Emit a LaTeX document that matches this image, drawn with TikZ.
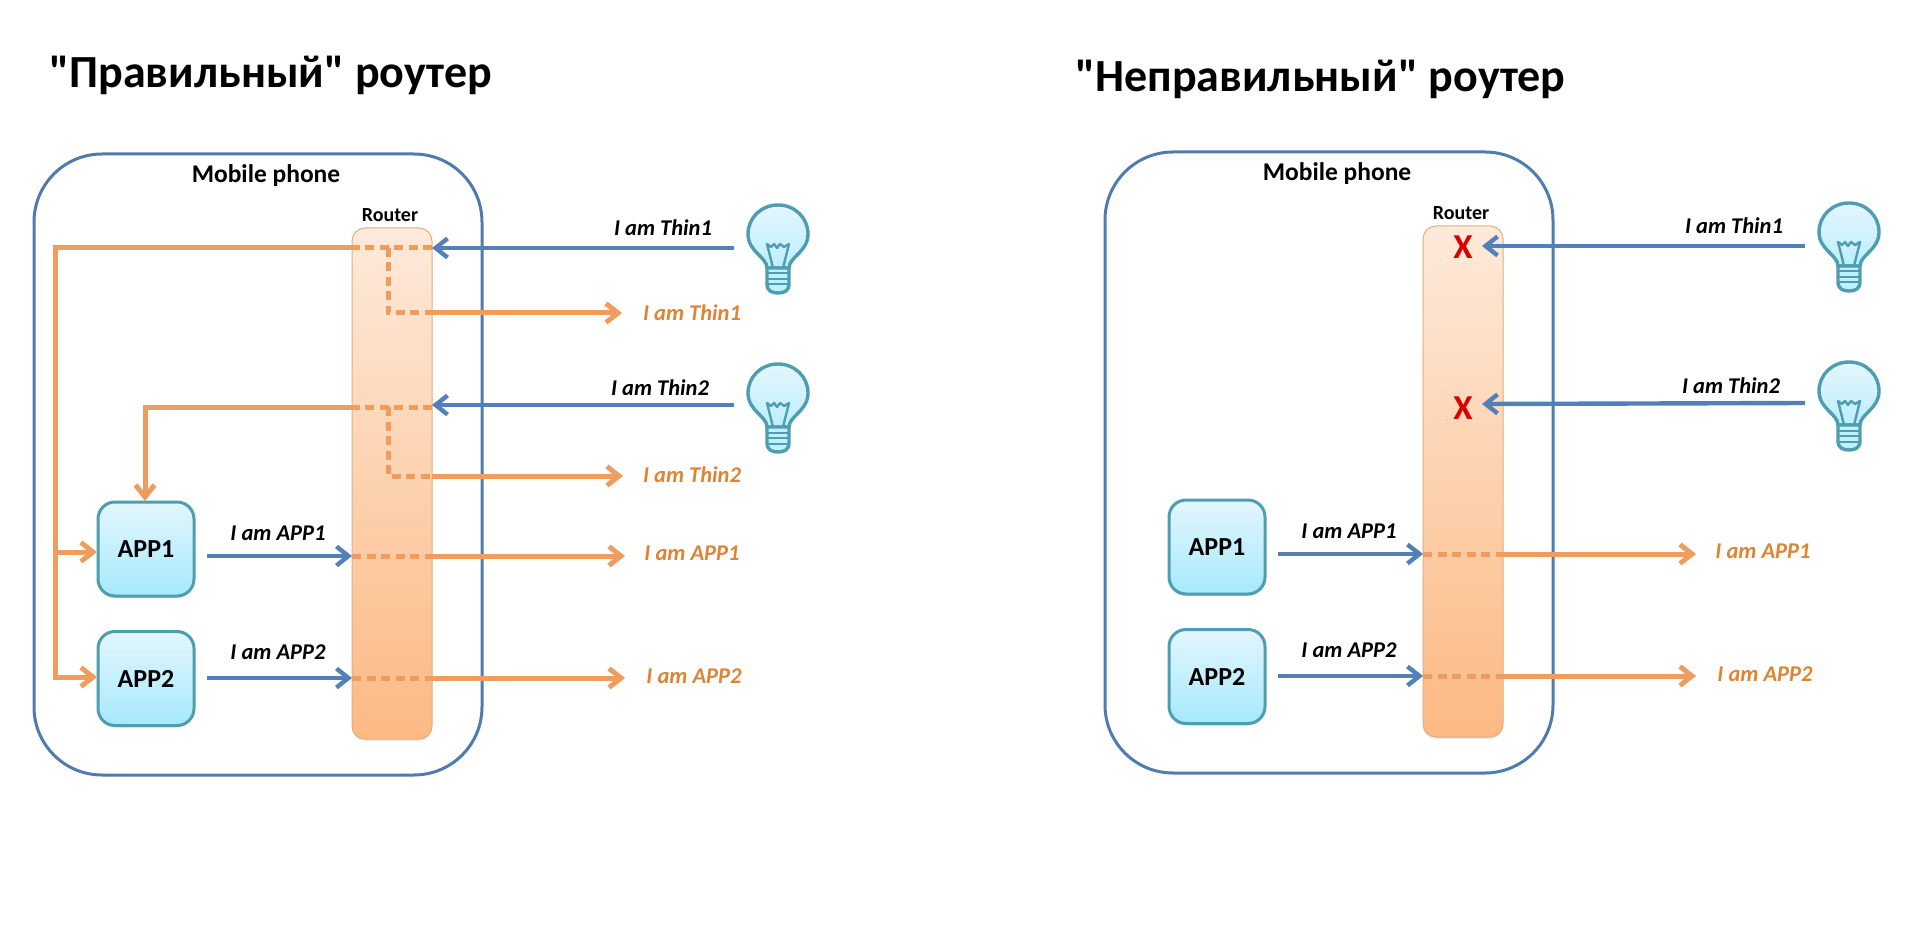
\documentclass[tikz,border=0pt]{standalone}
\usepackage{fontspec}
\setmainfont[Ligatures=TeXOff]{Carlito}
\usetikzlibrary{arrows.meta,shadows}
\definecolor{edgeblue}{HTML}{4F7BAE}
\definecolor{flowblue}{HTML}{5480B8}
\definecolor{floworange}{HTML}{EE9D5E}
\definecolor{textorange}{HTML}{DD8435}
\definecolor{apptop}{HTML}{E3F6FD}
\definecolor{appbottom}{HTML}{A6E9FC}
\definecolor{appedge}{HTML}{4E9DB0}
\definecolor{routertop}{HTML}{FDEADB}
\definecolor{routerbottom}{HTML}{FCB983}
\definecolor{routeredge}{HTML}{E2AE80}
\tikzset{
  fs/.code={\fontsize{#1}{#1}\selectfont},
  phonebox/.style={draw=edgeblue,line width=3pt,rounded corners=68pt,minimum width=448pt,minimum height=621pt,inner sep=0pt,outer sep=0pt},
  routerbox/.style={draw=routeredge,line width=1pt,top color=routertop,bottom color=routerbottom,rounded corners=13pt,minimum width=80pt,minimum height=511pt,inner sep=0pt,outer sep=0pt,drop shadow={opacity=.18,shadow xshift=0pt,shadow yshift=-2pt}},
  appbox/.style={draw=appedge,line width=3pt,top color=apptop,bottom color=appbottom,rounded corners=17pt,minimum width=96pt,minimum height=94pt,inner sep=0pt,outer sep=0pt,font=\bfseries,fs=26,drop shadow={opacity=.22,shadow xshift=0pt,shadow yshift=-2pt}},
  title/.style={font=\bfseries,fs=46,anchor=west,inner sep=0pt},
  blacklabel/.style={font=\bfseries\itshape,fs=22.5,inner sep=0pt},
  orangelabel/.style={font=\bfseries\itshape,fs=22.5,text=textorange,inner sep=0pt},
  headlabel/.style={font=\bfseries,inner sep=0pt},
  bluearrow/.style={draw=flowblue,line width=4.4pt,-{Straight Barb[length=12pt,width=19pt,line width=4.4pt]}},
  orangearrow/.style={draw=floworange,line width=5pt,-{Straight Barb[length=12pt,width=19pt,line width=5pt]}},
  orangedash/.style={draw=floworange,line width=5pt,dash pattern=on 9pt off 5.5pt},
  crossmark/.style={font=\bfseries,fs=35,text=red!85!black,inner sep=0pt},
  bulbicon/.pic={
    \path[top color=apptop,bottom color=appbottom!75!white,draw=appedge,line width=3.4pt,line join=round]
      (-11,33) .. controls (-11,22) and (-30,17) .. (-30,-1)
      .. controls (-30,-17) and (-17,-30) .. (0,-30)
      .. controls (17,-30) and (30,-17) .. (30,-1)
      .. controls (30,17) and (11,22) .. (11,33) -- cycle;
    \path[fill=appbottom!70!white,draw=appedge,line width=3.4pt,line join=round]
      (-11,33) -- (-11,49) .. controls (-11,56) and (-6,58) .. (0,58)
      .. controls (6,58) and (11,56) .. (11,49) -- (11,33) -- cycle;
    \draw[appedge,line width=2pt] (-11,38.5) -- (11,38.5) (-11,44) -- (11,44) (-10,49.5) -- (10,49.5);
    \draw[appedge,line width=2.4pt,line join=round]
      (-5,33) -- (-11,9) -- (-7,12) -- (-4,9) -- (-1,13) -- (2,9) -- (6,12) -- (11,9) -- (5,33);
  }
}
% common part of a panel
\newcommand{\panelbase}{%
  \node[phonebox] (phone) at (258,464.5) {};
  \node[routerbox] (router) at (392,483.5) {};
  \node[headlabel,fs=25.5] (phonelabel) at (266,176) {Mobile phone};
  \node[headlabel,fs=20] (routerlabel) at (390,215) {Router};
  \node[appbox] (appA) at (146,549) {APP1};
  \node[appbox] (appB) at (146,678.5) {APP2};
  \pic at (778,235) {bulbicon};
  \pic at (778,394) {bulbicon};
  \node[blacklabel] (labThinA) at (663,228) {I am Thin1};
  \node[blacklabel] (labThinB) at (660,388) {I am Thin2};
  \node[blacklabel] (labAppA) at (278,533) {I am APP1};
  \node[blacklabel] (labAppB) at (278,652) {I am APP2};
  \node[orangelabel] (outAppA) at (692,553) {I am APP1};
  \node[orangelabel] (outAppB) at (694,676) {I am APP2};
  \coordinate (appAout) at (207,556);
  \coordinate (appBout) at (207,678);
  \coordinate (appAin) at (352,556);
  \coordinate (appBin) at (352,678);
  \coordinate (appAmid) at (432,556);
  \coordinate (appBmid) at (432,678);
  \coordinate (appAend) at (625,556);
  \coordinate (appBend) at (625,678);
  \coordinate (thinAsrc) at (734,248);
  \coordinate (thinBsrc) at (734,405);
  \draw[bluearrow] (appAout) -- (appAin);
  \draw[bluearrow] (appBout) -- (appBin);
  \draw[orangedash] (appAin) -- (appAmid);
  \draw[orangedash] (appBin) -- (appBmid);
  \draw[orangearrow] (appAmid) -- (appAend);
  \draw[orangearrow] (appBmid) -- (appBend);
}
\begin{document}
\begin{tikzpicture}[x=1pt,y=-1pt]
\useasboundingbox[fill=white] (0,0) rectangle (1920,925);
\node[title] (titleL) at (49,75) {"Правильный" роутер};
\node[title] (titleR) at (1075,79) {"Неправильный" роутер};
% left panel
\begin{scope}[name prefix=L-]
  \panelbase
  \node[orangelabel] (outThinA) at (692,313) {I am Thin1};
  \node[orangelabel] (outThinB) at (692,475) {I am Thin2};
  \coordinate (tipA) at (432,248);
  \coordinate (tipB) at (432,405);
  \coordinate (startA) at (432,248);
  \coordinate (startB) at (432,407);
  \coordinate (midA) at (352,248);
  \coordinate (midB) at (352,407);
  \coordinate (forkA) at (388,248);
  \coordinate (forkB) at (388,407);
  \coordinate (exitA) at (388,313);
  \coordinate (exitB) at (388,476);
  \coordinate (edgeA) at (432,313);
  \coordinate (edgeB) at (432,476);
  \coordinate (endA) at (622,313);
  \coordinate (endB) at (623,476);
  \coordinate (railTop) at (55,248);
  \coordinate (railA) at (55,552);
  \coordinate (railB) at (55,677);
  \coordinate (appAw) at (97,552);
  \coordinate (appBw) at (97,677);
  \coordinate (turnB) at (145,407);
  \coordinate (appAn) at (145,501);
  \draw[orangedash] (startA) -- (midA);
  \draw[orangedash] (startB) -- (midB);
  \draw[orangedash] (forkA) -- (exitA) -- (edgeA);
  \draw[orangedash] (forkB) -- (exitB) -- (edgeB);
  \draw[orangearrow] (edgeA) -- (endA);
  \draw[orangearrow] (edgeB) -- (endB);
  \draw[orangearrow,line join=miter] (midA) -- (railTop) -- (railB) -- (appBw);
  \draw[orangearrow] (railA) -- (appAw);
  \draw[orangearrow,line join=miter] (midB) -- (turnB) -- (appAn);
  \draw[bluearrow] (thinAsrc) -- (tipA);
  \draw[bluearrow] (thinBsrc) -- (tipB);
\end{scope}
% right panel
\begin{scope}[shift={(1071,-2)},name prefix=R-]
  \panelbase
  \coordinate (tipA) at (411,248);
  \coordinate (tipB) at (411,406);
  \node[crossmark] (crossA) at (392,249) {X};
  \node[crossmark] (crossB) at (392,410) {X};
  \draw[bluearrow] (thinAsrc) -- (tipA);
  \draw[bluearrow] (thinBsrc) -- (tipB);
\end{scope}
\end{tikzpicture}
\end{document}
